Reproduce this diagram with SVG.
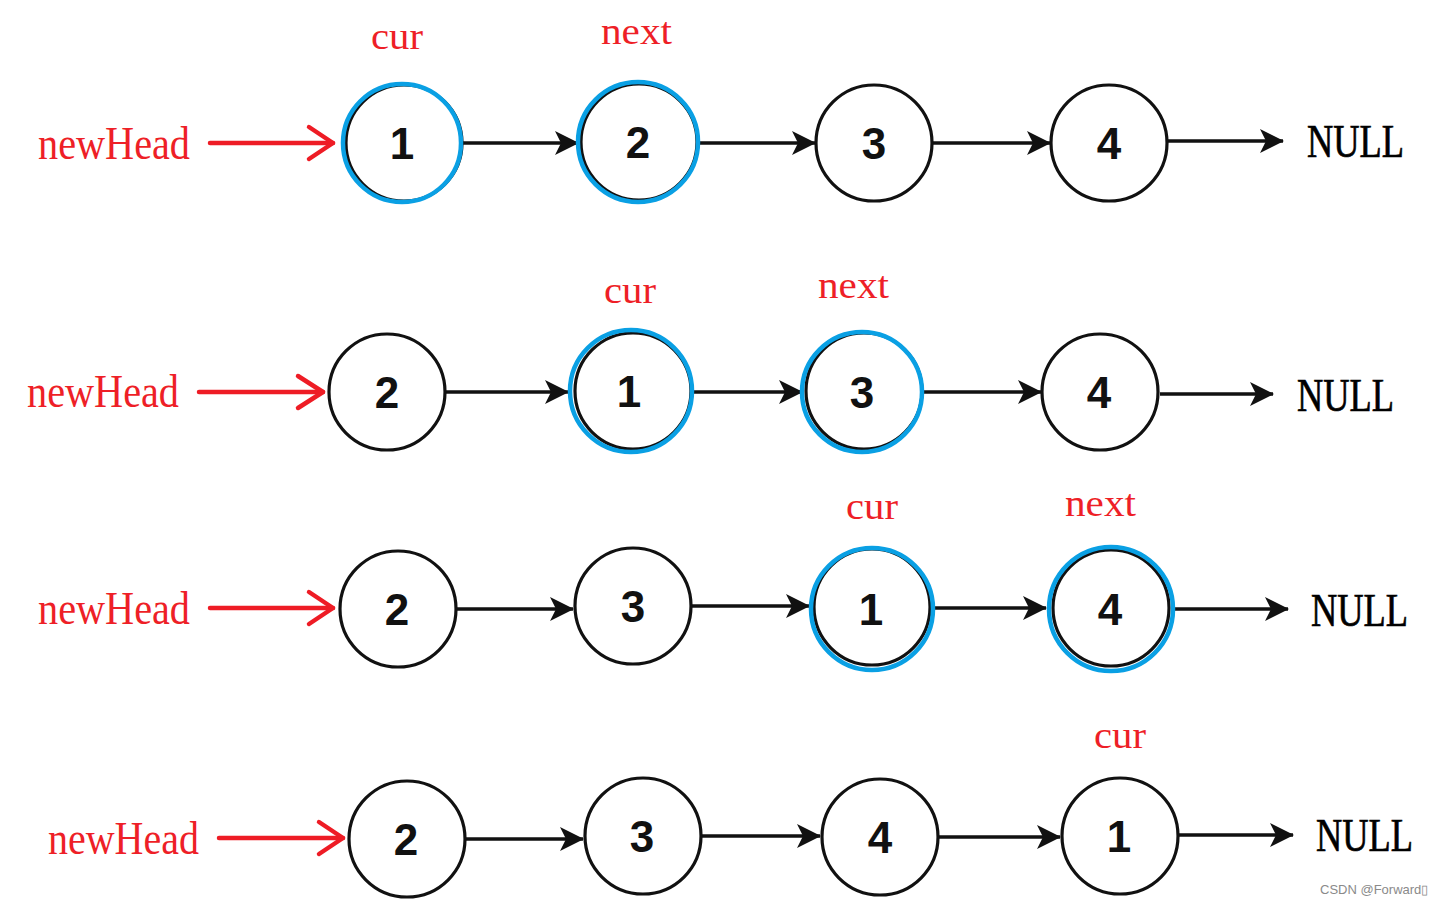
<svg xmlns="http://www.w3.org/2000/svg" width="1438" height="905" viewBox="0 0 1438 905">
<style>
.bg{fill:#ffffff}
.node{fill:#ffffff;stroke:#111111;stroke-width:3.2}
.hl{fill:none;stroke:#0aa0e4;stroke-width:4.5}
.num{font-family:"Liberation Sans",Arial,sans-serif;font-weight:bold;font-size:44px;fill:#111111;text-anchor:middle}
.lbl{font-family:"Liberation Serif","Times New Roman",serif;fill:#ee1f27}
.nh{font-size:46px}
.ptr{font-size:38px}
.null{font-family:"Liberation Serif","Times New Roman",serif;font-size:46px;fill:#000000;stroke:#000000;stroke-width:0.7}
.link{stroke:#111111;stroke-width:3.5;fill:none;marker-end:url(#ah)}
.red{stroke:#ee1c25;stroke-width:4.5;fill:none;stroke-linecap:round;stroke-linejoin:round}
.wm{font-family:"Liberation Sans",Arial,sans-serif;font-size:13px;fill:#8a8a8a}
</style>
<defs>
<marker id="ah" markerUnits="userSpaceOnUse" markerWidth="26" markerHeight="26" viewBox="0 0 26 26" refX="24" refY="13" orient="auto">
<path d="M1,1 L25,13 L1,25 L7,13 Z" fill="#111111"/>
</marker>
</defs>
<rect class="bg" x="0" y="0" width="1438" height="905"/>

<g id="connectors">
<line class="link" x1="461" y1="143" x2="578" y2="143"/>
<line class="link" x1="697" y1="143" x2="815" y2="143"/>
<line class="link" x1="933" y1="143" x2="1050" y2="143"/>
<line class="link" x1="1168" y1="141" x2="1283" y2="141"/>
<line class="red" x1="210" y1="143" x2="333" y2="143"/>
<polyline class="red" points="309,127 333,143 309,159"/>
<line class="link" x1="446" y1="392" x2="568" y2="392"/>
<line class="link" x1="692" y1="392" x2="802" y2="392"/>
<line class="link" x1="923" y1="392" x2="1041" y2="392"/>
<line class="link" x1="1160" y1="394" x2="1273" y2="394"/>
<line class="red" x1="199" y1="392" x2="323" y2="392"/>
<polyline class="red" points="298,376 323,392 298,408"/>
<line class="link" x1="457" y1="609" x2="573" y2="609"/>
<line class="link" x1="692" y1="606" x2="809" y2="606"/>
<line class="link" x1="934" y1="608" x2="1046" y2="608"/>
<line class="link" x1="1172" y1="609" x2="1288" y2="609"/>
<line class="red" x1="210" y1="608" x2="333" y2="608"/>
<polyline class="red" points="309,592 333,608 309,624"/>
<line class="link" x1="466" y1="839" x2="583" y2="839"/>
<line class="link" x1="702" y1="836" x2="820" y2="836"/>
<line class="link" x1="939" y1="837" x2="1060" y2="837"/>
<line class="link" x1="1179" y1="835" x2="1293" y2="835"/>
<line class="red" x1="219" y1="838" x2="343" y2="838"/>
<polyline class="red" points="319,822 343,838 319,854"/>
</g>

<g id="row1-labels">
<text class="lbl nh" x="38" y="159" textLength="152" lengthAdjust="spacingAndGlyphs">newHead</text>
<text class="lbl ptr" x="371" y="49" textLength="52" lengthAdjust="spacingAndGlyphs">cur</text>
<text class="lbl ptr" x="601" y="44" textLength="71" lengthAdjust="spacingAndGlyphs">next</text>
<text class="null" x="1307" y="157" textLength="97" lengthAdjust="spacingAndGlyphs">NULL</text>
</g>
<g id="row2-labels">
<text class="lbl nh" x="27" y="407" textLength="152" lengthAdjust="spacingAndGlyphs">newHead</text>
<text class="lbl ptr" x="604" y="303" textLength="52" lengthAdjust="spacingAndGlyphs">cur</text>
<text class="lbl ptr" x="818" y="298" textLength="71" lengthAdjust="spacingAndGlyphs">next</text>
<text class="null" x="1297" y="411" textLength="97" lengthAdjust="spacingAndGlyphs">NULL</text>
</g>
<g id="row3-labels">
<text class="lbl nh" x="38" y="624" textLength="152" lengthAdjust="spacingAndGlyphs">newHead</text>
<text class="lbl ptr" x="846" y="519" textLength="52" lengthAdjust="spacingAndGlyphs">cur</text>
<text class="lbl ptr" x="1065" y="516" textLength="71" lengthAdjust="spacingAndGlyphs">next</text>
<text class="null" x="1311" y="626" textLength="97" lengthAdjust="spacingAndGlyphs">NULL</text>
</g>
<g id="row4-labels">
<text class="lbl nh" x="48" y="854" textLength="151" lengthAdjust="spacingAndGlyphs">newHead</text>
<text class="lbl ptr" x="1094" y="748" textLength="52" lengthAdjust="spacingAndGlyphs">cur</text>
<text class="null" x="1316" y="851" textLength="97" lengthAdjust="spacingAndGlyphs">NULL</text>
</g>

<g id="r1n1"><circle class="node" cx="404" cy="143" r="58"/><circle class="hl" cx="402" cy="143" r="59"/><text class="num" x="402" y="159">1</text></g>
<g id="r1n2"><circle class="node" cx="639" cy="142" r="58"/><circle class="hl" cx="638" cy="142" r="60"/><text class="num" x="638" y="158">2</text></g>
<g id="r1n3"><circle class="node" cx="874" cy="143" r="58"/><text class="num" x="874" y="159">3</text></g>
<g id="r1n4"><circle class="node" cx="1109" cy="143" r="58"/><text class="num" x="1109" y="159">4</text></g>

<g id="r2n2"><circle class="node" cx="387" cy="392" r="58"/><text class="num" x="387" y="408">2</text></g>
<g id="r2n1"><circle class="node" cx="633" cy="391" r="58"/><circle class="hl" cx="631" cy="391" r="61"/><text class="num" x="629" y="407">1</text></g>
<g id="r2n3"><circle class="node" cx="864" cy="391" r="58"/><circle class="hl" cx="862" cy="392" r="60"/><text class="num" x="862" y="408">3</text></g>
<g id="r2n4"><circle class="node" cx="1100" cy="392" r="58"/><text class="num" x="1099" y="408">4</text></g>

<g id="r3n2"><circle class="node" cx="398" cy="609" r="58"/><text class="num" x="397" y="625">2</text></g>
<g id="r3n3"><circle class="node" cx="633" cy="606" r="58"/><text class="num" x="633" y="622">3</text></g>
<g id="r3n1"><circle class="node" cx="872" cy="607" r="58"/><circle class="hl" cx="872" cy="609" r="61"/><text class="num" x="871" y="625">1</text></g>
<g id="r3n4"><circle class="node" cx="1111" cy="608" r="58"/><circle class="hl" cx="1111" cy="609" r="62"/><text class="num" x="1110" y="625">4</text></g>

<g id="r4n2"><circle class="node" cx="407" cy="839" r="58"/><text class="num" x="406" y="855">2</text></g>
<g id="r4n3"><circle class="node" cx="643" cy="836" r="58"/><text class="num" x="642" y="852">3</text></g>
<g id="r4n4"><circle class="node" cx="880" cy="837" r="58"/><text class="num" x="880" y="853">4</text></g>
<g id="r4n1"><circle class="node" cx="1120" cy="836" r="58"/><text class="num" x="1119" y="852">1</text></g>

<text class="wm" x="1320" y="894">CSDN @Forward▯</text>
</svg>
